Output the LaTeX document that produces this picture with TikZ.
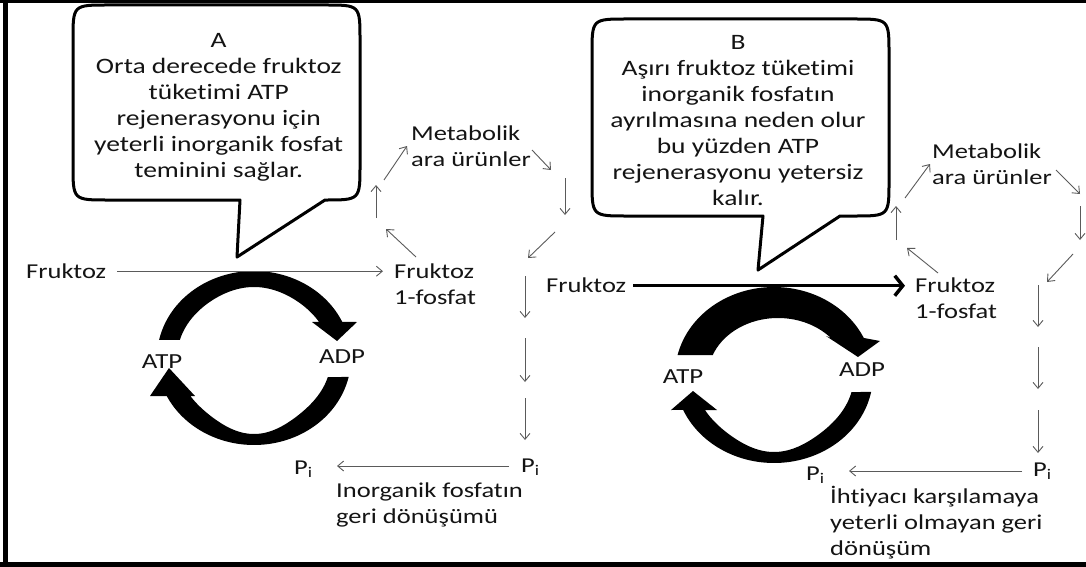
\documentclass[tikz,border=0pt]{standalone}
\usepackage{fontspec}
\setmainfont{Carlito}[FakeStretch=1.25,Ligatures=CommonOff]
\usetikzlibrary{arrows.meta}
\definecolor{txt}{HTML}{141414}
\definecolor{thin}{HTML}{5A5A5A}
\begin{document}
\begin{tikzpicture}[x=1pt,y=-1pt,
  lbl/.style={inner sep=0pt, text=txt, font=\fontsize{21.2}{26}\selectfont},
  bubtext/.style={inner sep=0pt, text=txt, align=center, font=\fontsize{22}{26}\selectfont},
  cyc/.style={inner sep=0pt, text=txt, font=\fontsize{21.5}{24}\selectfont},
  thinarr/.style={draw=thin, line width=0.9pt, -{Straight Barb[length=6pt,width=10pt]}},
  thickarr/.style={draw=black, line width=3.5pt, -{Straight Barb[length=8pt,width=20pt]}},
  bubble/.style={draw=black, line width=3pt, fill=white, line join=round},
  band/.style={fill=black},
  framebar/.style={draw=black}]

\useasboundingbox (0,0) rectangle (1086,567);

% frame (top, left, bottom)
\draw[framebar, line width=3.5pt] (0,1.5) -- (1086,1.5);
\draw[framebar, line width=5.5pt] (5.5,0) -- (5.5,567);
\draw[framebar, line width=5pt] (0,564.5) -- (1086,564.5);

% ===================== Panel A =====================
\draw[bubble] (240,200) -- (108,200) .. controls (73,200) .. (73,165) -- (73,40)
  .. controls (73,5) .. (108,5) -- (325,5) .. controls (360,5) .. (360,40)
  -- (360,165) .. controls (360,200) .. (325,200) -- (237,257) -- cycle;
\node[bubtext, anchor=north] (txtA) at (218.7,33)
  {A\\Orta derecede fruktoz\\tüketimi ATP\\rejenerasyonu için\\yeterli inorganik fosfat\\teminini sağlar.};

% ATP cycle A
\fill[band] plot[domain=192:335.5, samples=70] ({254+97*cos(\x)},{358+87*sin(\x)})
  -- (357,322) -- (337,341) -- (312,322)
  -- plot[domain=327.5:195.6, samples=70] ({254+(77+4*exp(-((\x-270)/30)^2))*cos(\x)},{358+(67+4*exp(-((\x-270)/30)^2))*sin(\x)}) -- cycle;
\fill[band] plot[domain=12.6:154.1, samples=70] ({254+97*cos(\x)},{358+87*sin(\x)})
  -- (150,396) -- (169,368) -- (195,396)
  -- plot[domain=145.5:16.5, samples=70] ({254+(77+9*exp(-((\x-90)/28)^2))*cos(\x)},{358+(67+9*exp(-((\x-90)/28)^2))*sin(\x)}) -- cycle;
\node[cyc] (atpA) at (162,362) {ATP};
\node[cyc] (adpA) at (342,357) {ADP};

% labels A
\node[lbl, anchor=base west] (fruA) at (26,278) {Fruktoz};
\node[lbl, anchor=north west, align=left] (f1pA) at (394,263.2) {Fruktoz\\1-fosfat};
\node[lbl, anchor=north west, align=left] (metA) at (411,125.2) {Metabolik\\ara ürünler};
\node[lbl, anchor=base west] (piAL) at (294,474) {P\textsubscript{i}};
\node[lbl, anchor=base west] (piAR) at (521,472) {P\textsubscript{i}};
\node[lbl, anchor=north west, align=left] (recA) at (336,482.2) {Inorganik fosfatın\\geri dönüşümü};

% arrows A
\draw[thinarr] ([xshift=11pt,yshift=-0.5pt]fruA.east) -- ([xshift=-11pt,yshift=-0.5pt]fruA.east -| f1pA.west);
\coordinate (a1) at (376,218); \coordinate (a2) at (376,185);
\coordinate (a3) at (384,180); \coordinate (a4) at (407,146);
\coordinate (a5) at (416,257); \coordinate (a6) at (386,229);
\coordinate (a7) at (532,150); \coordinate (a8) at (551,170);
\coordinate (a9) at (565,178); \coordinate (a10) at (565,215);
\coordinate (a11) at (555,232); \coordinate (a12) at (528,258);
\coordinate (a13) at (525,276); \coordinate (a14) at (525,318);
\coordinate (a15) at (525,338); \coordinate (a16) at (525,382);
\coordinate (a17) at (525,398); \coordinate (a18) at (525,440);
\draw[thinarr] (a1) -- (a2);
\draw[thinarr] (a3) -- (a4);
\draw[thinarr] (a5) -- (a6);
\draw[thinarr] (a7) -- (a8);
\draw[thinarr] (a9) -- (a10);
\draw[thinarr] (a11) -- (a12);
\draw[thinarr] (a13) -- (a14);
\draw[thinarr] (a15) -- (a16);
\draw[thinarr] (a17) -- (a18);
\coordinate (pa1) at (509,466); \coordinate (pa2) at (337,466);
\draw[thinarr] (pa1) -- (pa2);

% ===================== Panel B =====================
\draw[bubble] (763,216) -- (627,216) .. controls (592,216) .. (592,181) -- (592,54)
  .. controls (592,19) .. (627,19) -- (854,19) .. controls (889,19) .. (889,54)
  -- (889,181) .. controls (889,216) .. (854,216) -- (840,216) -- (758,270) -- cycle;
\node[bubtext, anchor=north] (txtB) at (738,35)
  {B\\Aşırı fruktoz tüketimi\\inorganik fosfatın\\ayrılmasına neden olur\\bu yüzden ATP\\rejenerasyonu yetersiz\\kalır.};

% ATP cycle B
\fill[band] plot[domain=193.1:335.1, samples=70] ({774+99*cos(\x)},{375+88*sin(\x)})
  -- (880,341) -- (858,357) -- (826,336)
  -- plot[domain=319.1:201.2, samples=70] ({778+70*cos(\x)},{376+58*sin(\x)}) -- cycle;
\fill[band] plot[domain=11.1:156.6, samples=70] ({774+99*cos(\x)},{375+88*sin(\x)})
  -- (671,410) -- (693,391) -- (717,410)
  -- plot[domain=149.5:14.3, samples=70] ({774+(80+8*exp(-((\x-90)/28)^2))*cos(\x)},{375+(69+8*exp(-((\x-90)/28)^2))*sin(\x)}) -- cycle;
\node[cyc] (atpB) at (683,377) {ATP};
\node[cyc] (adpB) at (862,370) {ADP};

% labels B
\node[lbl, anchor=base west] (fruB) at (546,292) {Fruktoz};
\node[lbl, anchor=north west, align=left] (f1pB) at (915,277.2) {Fruktoz\\1-fosfat};
\node[lbl, anchor=north west, align=left] (metB) at (932,143.2) {Metabolik\\ara ürünler};
\node[lbl, anchor=base west] (piBL) at (806,480) {P\textsubscript{i}};
\node[lbl, anchor=base west] (piBR) at (1033,476) {P\textsubscript{i}};
\node[lbl, anchor=north west, align=left] (recB) at (830,485.5) {İhtiyacı karşılamaya\\yeterli olmayan geri\\dönüşüm};

% arrows B
\draw[thickarr] ([xshift=7pt,yshift=-1pt]fruB.east) -- ([xshift=-10pt,yshift=-1pt]fruB.east -| f1pB.west);
\coordinate (b1) at (896,240); \coordinate (b2) at (896,206);
\coordinate (b3) at (905,198); \coordinate (b4) at (930,164);
\coordinate (b5) at (938,273); \coordinate (b6) at (907,248);
\coordinate (b7) at (1056,170); \coordinate (b8) at (1080,194);
\coordinate (b9) at (1080,206); \coordinate (b10) at (1080,240);
\coordinate (b11) at (1073,254); \coordinate (b12) at (1047,282);
\coordinate (b13) at (1038,285); \coordinate (b14) at (1038,327);
\coordinate (b15) at (1038,347); \coordinate (b16) at (1038,389);
\coordinate (b17) at (1038,410); \coordinate (b18) at (1038,453);
\draw[thinarr] (b1) -- (b2);
\draw[thinarr] (b3) -- (b4);
\draw[thinarr] (b5) -- (b6);
\draw[thinarr] (b7) -- (b8);
\draw[thinarr] (b9) -- (b10);
\draw[thinarr] (b11) -- (b12);
\draw[thinarr] (b13) -- (b14);
\draw[thinarr] (b15) -- (b16);
\draw[thinarr] (b17) -- (b18);
\coordinate (pb1) at (1022,471); \coordinate (pb2) at (849,471);
\draw[thinarr] (pb1) -- (pb2);
\end{tikzpicture}
\end{document}
